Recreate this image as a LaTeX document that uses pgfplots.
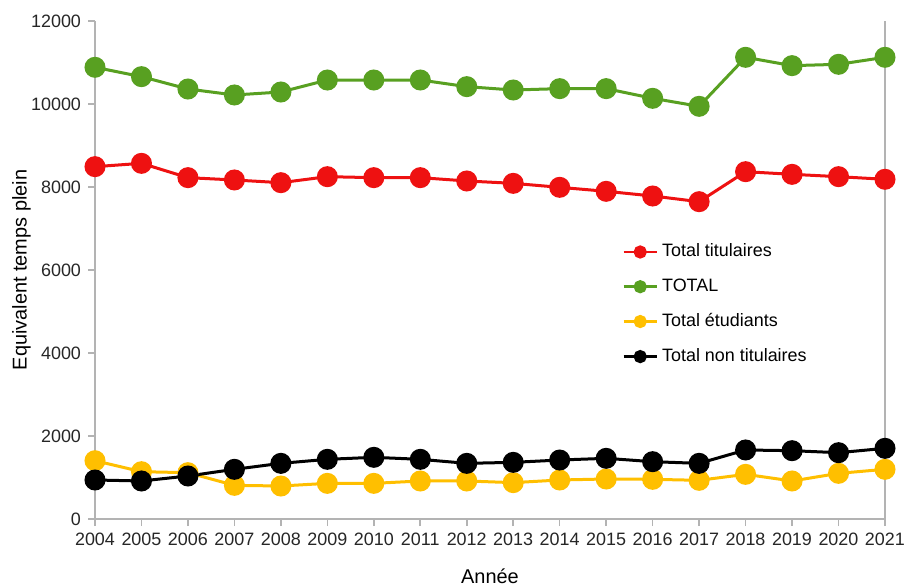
\documentclass[border=0pt]{standalone}
\usepackage{pgfplots}
\pgfplotsset{compat=1.18}
\usepackage{fontspec}
\setmainfont{Liberation Sans}
\definecolor{cred}{HTML}{EE1111}
\definecolor{cgreen}{HTML}{58A021}
\definecolor{cyellow}{HTML}{FFBF00}
\definecolor{cblack}{HTML}{000000}
\definecolor{axgray}{HTML}{B3B3B3}
\begin{document}
\begin{tikzpicture}
\useasboundingbox (-47.5bp,-33.5bp) rectangle (405bp,259.5bp);
\begin{axis}[
  scale only axis,
  width=395bp, height=249bp,
  xmin=2004, xmax=2021, ymin=0, ymax=12000,
  xtick={2004,...,2021}, ytick={0,2000,...,12000},
  axis x line*=bottom, axis y line*=box,
  xtick pos=bottom, ytick pos=left,
  tick align=outside, major tick length=3.5bp,
  axis line style={axgray, line width=0.8bp},
  every tick/.style={axgray, line width=0.8bp},
  scaled y ticks=false,
  /pgf/number format/.cd, 1000 sep={}, assume math mode=true, /pgfplots/.cd,
  xticklabel={\pgfmathprintnumber[1000 sep={},assume math mode=true]{\tick}},
  ticklabel style={font=\fontsize{9}{10}\selectfont, text=black!85},
  xlabel={Année}, ylabel={Equivalent temps plein},
  label style={font=\fontsize{9}{10}\selectfont, text=black!85},
  every axis x label/.style={at={(axis description cs:0.5,-0.114)}, anchor=center},
  every axis y label/.style={at={(axis description cs:-0.093,0.5)}, anchor=center, rotate=90},
  every axis plot/.append style={line width=1.5bp, mark=*, mark size=4.5bp},
  legend style={draw=none, fill=none, at={(axis description cs:0.667,0.561)}, anchor=north west,
    font=\fontsize{9}{10}\selectfont, row sep=5.5bp, inner sep=0pt,
    cells={anchor=west}},
  legend image code/.code={\draw[mark repeat=2,mark phase=2,#1, mark size=2.6bp, line width=1.4bp] plot coordinates {(0bp,0bp) (8.25bp,0bp) (16.5bp,0bp)};},
]
\addplot[color=cred] coordinates {
(2004,8490) (2005,8570) (2006,8225) (2007,8169) (2008,8104) (2009,8249) (2010,8225) (2011,8225) (2012,8145) (2013,8088) (2014,7992) (2015,7896) (2016,7783) (2017,7646) (2018,8369) (2019,8305) (2020,8249) (2021,8185)};
\addlegendentry{Total titulaires}
\addplot[color=cgreen] coordinates {
(2004,10884) (2005,10659) (2006,10361) (2007,10217) (2008,10289) (2009,10578) (2010,10578) (2011,10578) (2012,10418) (2013,10337) (2014,10370) (2015,10370) (2016,10137) (2017,9944) (2018,11125) (2019,10924) (2020,10956) (2021,11125)};
\addlegendentry{TOTAL}
\addplot[color=cyellow] coordinates {
(2004,1405) (2005,1140) (2006,1116) (2007,811) (2008,795) (2009,859) (2010,859) (2011,916) (2012,916) (2013,876) (2014,940) (2015,964) (2016,956) (2017,932) (2018,1076) (2019,916) (2020,1100) (2021,1197)};
\addlegendentry{Total étudiants}
\addplot[color=cblack] coordinates {
(2004,940) (2005,916) (2006,1036) (2007,1197) (2008,1341) (2009,1438) (2010,1486) (2011,1438) (2012,1341) (2013,1365) (2014,1421) (2015,1462) (2016,1381) (2017,1341) (2018,1663) (2019,1646) (2020,1598) (2021,1703)};
\addlegendentry{Total non titulaires}
\end{axis}
\end{tikzpicture}
\end{document}
